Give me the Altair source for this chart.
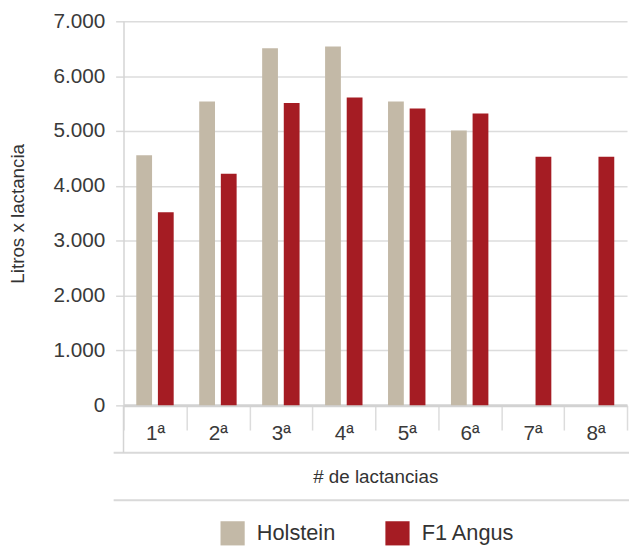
import altair as alt
import pandas as pd

lactancias = ["1ª", "2ª", "3ª", "4ª", "5ª", "6ª", "7ª", "8ª"]
holstein = [4560, 5540, 6510, 6540, 5540, 5010, None, None]
f1_angus = [3520, 4220, 5510, 5610, 5410, 5320, 4530, 4530]
series = ["Holstein", "F1 Angus"]
colors = ["#c3b9a7", "#a51c23"]
y_ticks = [0, 1000, 2000, 3000, 4000, 5000, 6000, 7000]

rows = []
for i, lab in enumerate(lactancias):
    if holstein[i] is not None:
        rows.append({"lact": lab, "raza": "Holstein", "litros": holstein[i]})
    if f1_angus[i] is not None:
        rows.append({"lact": lab, "raza": "F1 Angus", "litros": f1_angus[i]})
df = pd.DataFrame(rows)

W = 510
H = 389
FONT = "Liberation Sans"

bars = alt.Chart(df).mark_bar().encode(
    x=alt.X("lact:N", sort=lactancias,
            scale=alt.Scale(paddingInner=0, paddingOuter=0),
            axis=alt.Axis(title="# de lactancias", domain=True, domainColor="#d2d2d2",
                          domainWidth=3, ticks=True, tickBand="extent", tickColor="#dcdcdc",
                          tickWidth=1.5, tickSize=25, labelFontSize=21, labelColor="#3a3a3a",
                          labelPadding=-7, labelAngle=0, titleFontSize=19,
                          titleFontWeight="normal", titleColor="#333333", titlePadding=24,
                          grid=False)),
    xOffset=alt.XOffset("raza:N", sort=series,
                        scale=alt.Scale(paddingInner=0.27, paddingOuter=0.59)),
    y=alt.Y("litros:Q", scale=alt.Scale(domain=[0, 7000]),
            axis=alt.Axis(values=y_ticks,
                          labelExpr="replace(format(datum.value, ','), ',', '.')",
                          domain=True, domainColor="#d4d4d4", domainWidth=1.5,
                          tickColor="#d9d9d9", tickSize=8, tickWidth=1.5,
                          gridColor="#dcdcdc", gridWidth=1.5,
                          labelFontSize=21, labelColor="#3a3a3a", labelPadding=11,
                          title="Litros x lactancia", titleFontSize=19,
                          titleFontWeight="normal", titleColor="#333333", titlePadding=26)),
    color=alt.Color("raza:N", sort=series,
                    scale=alt.Scale(domain=series, range=colors),
                    legend=alt.Legend(orient="none", legendX=98, legendY=506,
                                      direction="horizontal", title=None,
                                      symbolType="square", symbolSize=600,
                                      symbolStrokeWidth=0, labelFontSize=22,
                                      labelColor="#333333", labelOffset=12,
                                      columnPadding=50)),
)

one = pd.DataFrame({"a": [0]})
line1 = alt.Chart(one).mark_rule(color="#d9d9d9", strokeWidth=2).encode(
    x=alt.value(-10), x2=alt.value(W + 2), y=alt.value(H + 48))
line2 = alt.Chart(one).mark_rule(color="#d9d9d9", strokeWidth=2).encode(
    x=alt.value(-10), x2=alt.value(W + 2), y=alt.value(H + 96))
vline = alt.Chart(one).mark_rule(color="#d4d4d4", strokeWidth=1.5).encode(
    x=alt.value(0), y=alt.value(H), y2=alt.value(H + 48))

chart = alt.layer(bars, line1, line2, vline).properties(
    width=W, height=H,
    autosize=alt.AutoSizeParams(type="none"),
    padding={"left": 117, "top": 10, "right": 2, "bottom": 141},
).configure(font=FONT).configure_view(stroke=None)

chart.save("out.html", embed_options={"renderer": "svg", "actions": False})
